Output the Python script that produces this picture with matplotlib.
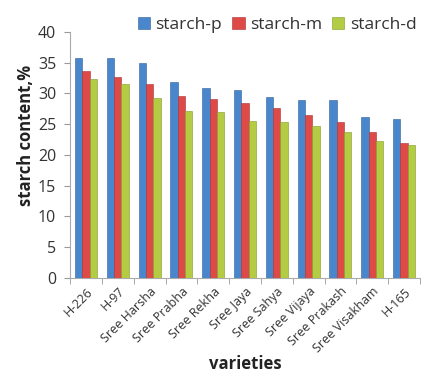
import matplotlib
matplotlib.use("Agg")
import matplotlib.pyplot as plt
import numpy as np

varieties = ["H-226", "H-97", "Sree Harsha", "Sree Prabha", "Sree Rekha", "Sree Jaya",
             "Sree Sahya", "Sree Vijaya", "Sree Prakash", "Sree Visakham", "H-165"]
starch_p = [35.7, 35.7, 35.0, 31.8, 30.9, 30.6, 29.4, 29.0, 28.9, 26.2, 25.8]
starch_m = [33.7, 32.6, 31.6, 29.6, 29.1, 28.4, 27.6, 26.5, 25.3, 23.8, 21.9]
starch_d = [32.3, 31.6, 29.2, 27.2, 27.0, 25.6, 25.3, 24.7, 23.8, 22.2, 21.6]
series_names = ["starch-p", "starch-m", "starch-d"]
yticks = [0, 5, 10, 15, 20, 25, 30, 35, 40]

colors = ["#4a86cc", "#de4a48", "#b3cc44"]
edge = ["#2f5f99", "#a83230", "#7f9a2a"]

plt.rcParams["font.family"] = ["Open Sans", "DejaVu Sans"]

fig = plt.figure(figsize=(4.25, 3.85), dpi=100)
ax = fig.add_axes([0.165, 0.278, 0.823, 0.639])

x = np.arange(len(varieties))
w = 0.23
for i, (vals, name) in enumerate(zip([starch_p, starch_m, starch_d], series_names)):
    ax.bar(x + (i - 1) * w, vals, width=w, color=colors[i], edgecolor=edge[i],
           linewidth=0.4, label=name, zorder=3)

ax.set_xlim(-0.5, len(varieties) - 0.5)
ax.set_ylim(0, 40)
ax.set_yticks(yticks)
ax.set_yticklabels([str(v) for v in yticks], fontsize=11.5, color="#333333")
ax.set_xticks(x)
ax.set_xticklabels(varieties, rotation=45, ha="right", rotation_mode="anchor",
                   fontsize=9, color="#333333")
ax.set_xticks(np.arange(len(varieties) + 1) - 0.5, minor=True)
ax.tick_params(axis="x", which="major", length=0, pad=5)
ax.tick_params(axis="x", which="minor", length=4, color="#999999")
ax.tick_params(axis="y", length=4, color="#999999", pad=6)

for s in ["top", "right"]:
    ax.spines[s].set_visible(False)
for s in ["left", "bottom"]:
    ax.spines[s].set_color("#aaaaaa")
    ax.spines[s].set_linewidth(0.8)

ax.set_ylabel("starch content,%", fontsize=12, fontweight="bold", color="#222222")
ax.yaxis.set_label_coords(-0.10, 0.58)
ax.set_xlabel("varieties", fontsize=12, fontweight="bold", color="#222222", labelpad=0)

leg = ax.legend(loc="upper right", bbox_to_anchor=(1.01, 1.09), ncol=3, frameon=False,
                fontsize=12.5, handlelength=0.7, handleheight=0.7, handletextpad=0.3,
                columnspacing=0.6, borderaxespad=0)
for t in leg.get_texts():
    t.set_color("#333333")

fig.savefig("out.png", dpi=100, facecolor="white")
